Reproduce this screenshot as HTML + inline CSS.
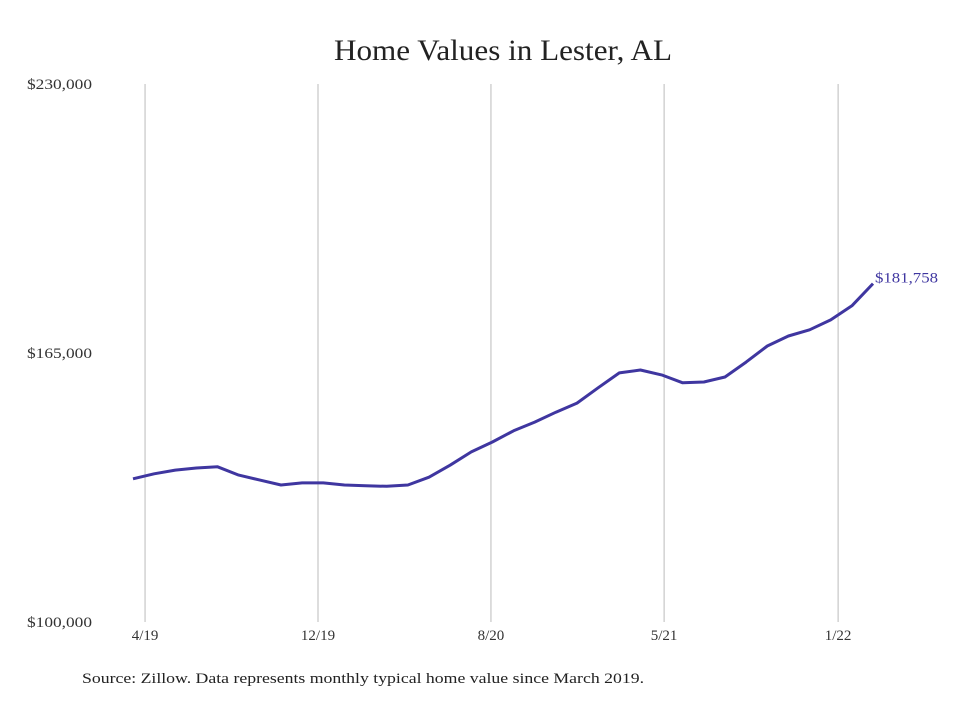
<!DOCTYPE html>
<html><head><meta charset="utf-8"><style>
body{margin:0;background:#fff;}
svg text{font-family:"Liberation Serif",serif;}
</style></head><body>
<svg width="980" height="699" xmlns="http://www.w3.org/2000/svg">
<text x="334" y="60" textLength="338" lengthAdjust="spacingAndGlyphs" font-size="30" fill="#222">Home Values in Lester, AL</text>
<g id="grid"></g>
<g id="yaxis"></g>
<g id="xaxis"></g>
<path id="line" fill="none" stroke="#3f36a0" stroke-width="3" stroke-linejoin="round"/>
<text id="endlabel" font-size="15" textLength="63" lengthAdjust="spacingAndGlyphs" fill="#3f36a0"></text>
<text x="82" y="683" font-size="15" textLength="562" lengthAdjust="spacingAndGlyphs" fill="#222">Source: Zillow. Data represents monthly typical home value since March 2019.</text>
</svg>
<script>
const values=[134600,135800,136700,137200,137500,135500,134300,133100,133600,133600,133100,132900,132800,133100,135000,137900,141100,143500,146200,148300,150700,152900,156600,160200,160900,159700,157800,158000,159200,162800,166700,169100,170600,173000,176400,181758];
const yTicks=[100000,165000,230000];
const yTickLabels=["$100,000","$165,000","$230,000"];
const xTickIdx=[0.57,8.75,16.93,25.12,33.35];
const xTickLabels=["4/19","12/19","8/20","5/21","1/22"];
const ns="http://www.w3.org/2000/svg";
const x0=133,x1=873,yTop=84,yBot=622,vMin=100000,vMax=230000;
const xs=i=>x0+i*(x1-x0)/(values.length-1);
const ys=v=>yBot-(v-vMin)/(vMax-vMin)*(yBot-yTop);
const grid=document.getElementById('grid'),xa=document.getElementById('xaxis'),ya=document.getElementById('yaxis');
xTickIdx.forEach((t,k)=>{
 const l=document.createElementNS(ns,'line');
 
 
 const x=xs(t);
 l.setAttribute('x1',x);l.setAttribute('x2',x);l.setAttribute('y1',yTop);l.setAttribute('y2',yBot);
 l.setAttribute('stroke','#bbb');l.setAttribute('stroke-width','1');
 grid.appendChild(l);
 const tx=document.createElementNS(ns,'text');
 
 
 tx.setAttribute('x',x);tx.setAttribute('y',640);tx.setAttribute('text-anchor','middle');
 tx.setAttribute('font-size','15');tx.setAttribute('fill','#333');
 tx.textContent=xTickLabels[k];xa.appendChild(tx);
});
yTicks.forEach((v,k)=>{
 const tx=document.createElementNS(ns,'text');
 
 
 tx.setAttribute('x',27);tx.setAttribute('y',ys(v)+5);
 tx.setAttribute('textLength','65');tx.setAttribute('lengthAdjust','spacingAndGlyphs');
 tx.setAttribute('font-size','15');tx.setAttribute('fill','#333');
 tx.textContent=yTickLabels[k];ya.appendChild(tx);
});
document.getElementById('line').setAttribute('d',values.map((v,i)=>(i?'L':'M')+xs(i).toFixed(1)+','+ys(v).toFixed(1)).join(''));
const last=values.length-1,el=document.getElementById('endlabel');
el.setAttribute('x',xs(last)+2);el.setAttribute('y',ys(values[last])-1);
el.textContent='$'+values[last].toLocaleString('en-US');
</script>
</body></html>
